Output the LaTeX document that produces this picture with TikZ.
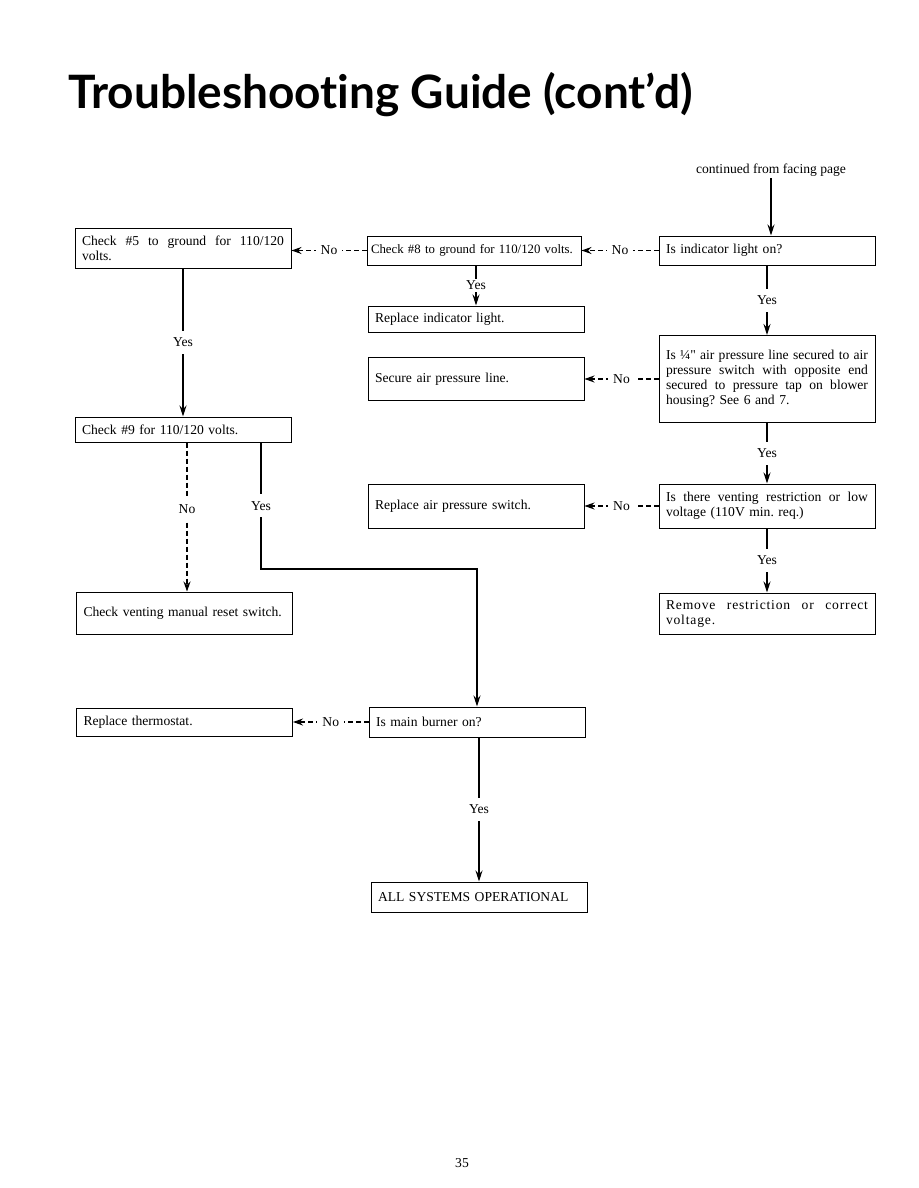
\documentclass[tikz,border=0pt]{standalone}
\usepackage{fontspec}
\setmainfont{Liberation Serif}
\newfontfamily\titlefont{Lato}[Ligatures=CommonOff]
\usetikzlibrary{calc, arrows.meta}

\newcommand{\jline}[1]{\leavevmode\hbox to 202pt{\spaceskip=0.25em plus 1fil minus 0.1em\relax #1}}

\begin{document}
\begin{tikzpicture}[x=1pt, y=-1pt,
  box/.style = {draw, line width=1pt, text width=202pt, inner xsep=7pt, inner ysep=2pt, align=left, font=\fontsize{13.6}{15}\selectfont\frenchspacing},
  yesline/.style = {line width=1.1pt, -{Stealth[length=11pt, width=7pt]}},
  noline/.style = {line width=1.1pt, dash pattern=on 5pt off 3pt, -{Stealth[length=10pt, width=7pt]}},
  lbl/.style = {fill=white, inner xsep=5pt, inner ysep=2pt, font=\fontsize{13.6}{15}\selectfont},
  yeslbl/.style = {lbl, inner ysep=7pt}]
\useasboundingbox (0,0) rectangle (918,1188);

%title
\node[anchor=base west, inner sep=0pt, font=\titlefont\bfseries\fontsize{46}{50}\selectfont] (title) at (68,109) {Troubleshooting Guide (cont’d)};

%right column
\node[lbl] (cont) at (771,170) {continued from facing page};
\node[box, minimum height=29pt] (indic) at (767,250.5) {Is indicator light on?};
\node[box, minimum height=87pt] (hose) at (767,379) {\jline{Is ¼\textquotedbl\ air pressure line secured to air}\\ \jline{pressure switch with opposite end}\\ \jline{secured to pressure tap on blower}\\ housing? See 6 and 7.};
\node[box, minimum height=44pt] (vent) at (767,506) {\jline{Is there venting restriction or low}\\ voltage (110V min. req.)};
\node[box, minimum height=41pt] (remove) at (767,613.5) {\addfontfeatures{LetterSpace=6}\jline{Remove restriction or correct}\\ voltage.};

%middle column
\node[box, minimum height=29pt, text width=206pt, inner xsep=4pt, font=\fontsize{12.8}{15}\selectfont] (chk8) at (474,250.5) {Check \#8 to ground for 110/120 volts.};
\node[box, minimum height=26pt] (lamp) at (476,319) {Replace indicator light.};
\node[box, minimum height=43pt] (secure) at (476,379) {Secure air pressure line.};
\node[box, minimum height=44pt] (airsw) at (476,506) {Replace air pressure switch.};
\node[box, minimum height=30pt] (burner) at (477,722) {Is main burner on?};
\node[box, minimum height=30pt] (allok) at (479,897) {ALL SYSTEMS OPERATIONAL};

%left column
\node[box, minimum height=40pt] (chk5) at (183,248) {\jline{Check \#5 to ground for 110/120}\\ volts.};
\node[box, minimum height=25pt] (chk9) at (183,429.5) {Check \#9 for 110/120 volts.};
\node[box, minimum height=42pt] (reset) at (184.5,613) {Check venting manual reset switch.};
\node[box, minimum height=28pt] (thermo) at (184.5,722) {Replace thermostat.};

%page number
\node[lbl] (page) at (462,1163) {35};

%draw edges
\draw[yesline] (cont.south) -- (cont.south |- indic.north);
\draw[yesline] (indic.south) -- node[yeslbl] {Yes} (hose.north);
\draw[yesline] (hose.south) -- node[yeslbl] {Yes} (vent.north);
\draw[yesline] (vent.south) -- node[yeslbl] {Yes} (remove.north);
\draw[yesline] (lamp.north |- chk8.south) -- node[lbl] {Yes} (lamp.north);
\draw[yesline] (allok.north |- burner.south) -- node[yeslbl] {Yes} (allok.north);
\draw[yesline] (chk5.south) -- node[yeslbl] {Yes} (chk9.north);

\coordinate (bend) at (261,569);
\draw[yesline] (chk9.south -| bend) -- node[yeslbl] {Yes} (bend) -| (burner.north);

\draw[noline] (indic.west) -- node[lbl] {No} (chk8.east);
\draw[noline] (chk8.west) -- node[lbl] {No} (chk8.west -| chk5.east);
\draw[noline] (hose.west) -- node[lbl] {No} (secure.east);
\draw[noline] (vent.west) -- node[lbl] {No} (airsw.east);
\draw[noline] (burner.west) -- node[lbl] {No} (thermo.east);
\draw[noline] ([xshift=4pt]chk9.south) -- node[yeslbl, pos=0.45] {No} ([xshift=4pt]chk9.south |- reset.north);

\end{tikzpicture}
\end{document}
